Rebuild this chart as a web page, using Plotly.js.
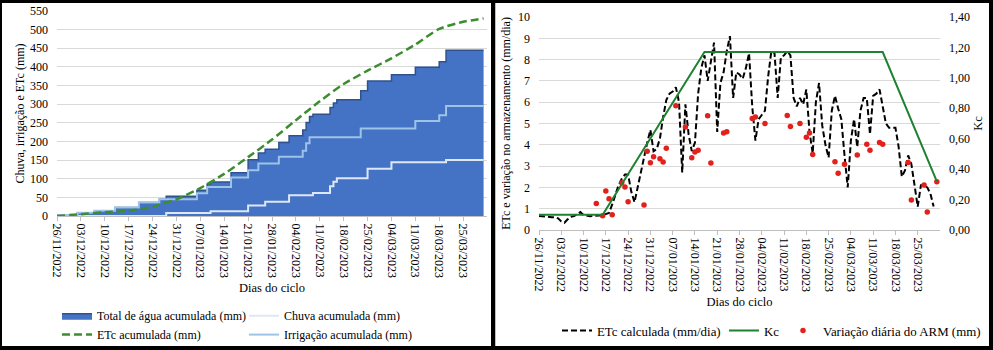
<!DOCTYPE html>
<html><head><meta charset="utf-8">
<script src="https://cdn.plot.ly/plotly-3.0.1.min.js"></script>
<style>
html,body{margin:0;padding:0;background:#000;width:993px;height:350px;overflow:hidden;}
#left{position:absolute;left:2px;top:3px;width:489px;height:343px;background:#fff;}
#right{position:absolute;left:495px;top:3px;width:494px;height:343px;background:#fff;box-shadow:inset 1px 0 0 #BFBFBF;}
</style></head><body>
<div id="left"></div><div id="right"></div>
<script>
// ---- tick labels (weekly) ----
const tickDates = ['2022-11-26','2022-12-03','2022-12-10','2022-12-17','2022-12-24','2022-12-31',
  '2023-01-07','2023-01-14','2023-01-21','2023-01-28','2023-02-04','2023-02-11','2023-02-18',
  '2023-02-25','2023-03-04','2023-03-11','2023-03-18','2023-03-25'];
const xRange = ['2022-11-26','2023-04-01'];

// ---- left chart: cumulative series (day index since 26/11/2022, cumulative mm) ----
const totalDays = [0,6,11,17,24,30,32,41,44,45,51,56,59,61,65,68,72,73,74,75,80,81,82,89,91,98,105,112,114,125];
const totalVals = [3,9,14,23,36,45,53,69,86,91,116,151,169,179,197,215,231,251,267,273,291,303,312,336,362,379,399,414,445,445];
const chuvaDays = [0,32,45,56,61,68,75,80,81,82,91,98,114,125];
const chuvaVals = [0,8,13,28,38,56,62,80,92,101,127,144,150,150];
const irrDays = [0,6,11,17,24,30,41,44,51,56,59,65,72,73,74,89,105,112,114,125];
const irrVals = [3,9,14,23,36,45,61,78,103,123,141,159,175,195,211,235,255,270,295,295];
const etcAcDays = [0,7,14,21,28,35,42,49,56,63,70,77,84,91,98,105,112,119,125];
const etcAcVals = [0,5,10,14,25,45,75,113,158,205,257,308,354,390,423,460,502,521,530];

// ---- right chart ----
// daily ETc (mm/dia), starting 26/11/2022
const etcDaily = [0.66,0.64,0.62,0.62,0.6,0.6,0.55,0.4,0.34,0.5,0.62,0.65,0.75,0.84,0.7,0.66,0.65,0.66,0.66,0.68,
  0.7,0.75,0.8,1.2,1.7,2.1,2.4,2.6,2.6,1.8,1.3,2.0,2.8,3.5,4.1,4.7,3.7,3.8,4.3,5.3,
  6.1,6.4,6.5,6.7,6.0,2.7,5.9,4.5,3.7,4.1,6.4,7.6,8.2,7.0,8.0,8.8,4.6,6.9,7.4,8.4,
  9.1,6.2,7.4,7.3,7.1,7.6,8.3,5.8,4.2,5.2,5.4,5.6,7.2,8.4,8.3,6.2,8.1,8.2,8.4,8.2,
  6.2,5.8,6.2,5.9,6.6,4.6,3.6,6.0,6.9,4.9,4.0,3.4,5.6,6.3,5.7,5.2,3.5,2.0,4.2,5.2,
  3.9,5.6,6.2,6.2,4.5,6.3,6.4,6.6,5.8,5.0,4.8,4.8,4.8,3.9,2.5,2.8,3.5,3.1,2.0,1.1,
  2.1,2.1,2.0,1.7,1.1];
const kcDays = [0,20,52,108,125];
const kcVals = [0.10,0.10,1.17,1.17,0.32];
const armDays = [18,20,21,22,23,26,27,28,33,34,35,36,38,39,40,43,46,48,49,50,53,54,58,59,
  67,68,71,78,79,82,84,85,86,93,94,96,100,103,104,107,108,116,117,121,122,125];
const armVals = [1.25,0.67,1.83,1.47,0.72,2.22,2.02,1.33,1.17,3.70,3.16,3.44,3.34,3.19,3.84,5.83,4.83,3.39,3.66,3.75,5.36,3.14,4.55,4.61,
  5.24,5.31,5.0,5.38,4.86,5.0,4.35,4.55,3.55,3.20,2.67,3.09,3.52,4.02,3.75,4.11,4.03,3.17,1.41,2.11,0.84,2.26];

function dayToDate(d){ return new Date(Date.UTC(2022,10,26) + d*86400000).toISOString().slice(0,10); }
const toDates = arr => arr.map(dayToDate);

const FONT = '"Liberation Serif", "Times New Roman", "DejaVu Serif", serif';
const TXT = {family:FONT, size:12, color:'#000'};
const xaxisBase = {
  type:'date', range:xRange, tickmode:'array', tickvals:tickDates, tickformat:'%d/%m/%Y',
  tickangle:90, tickfont:TXT, showgrid:false,
  showline:true, linecolor:'#BFBFBF', linewidth:1, ticks:'outside', ticklen:4, tickcolor:'#BFBFBF',
  zeroline:false, fixedrange:true
};
function leg(x, y, H, fs){ // one-entry legend placed in container pixels
  return {orientation:'h', xref:'container', yref:'container', x:x, y:1 - y/H, xanchor:'left', yanchor:'middle',
    font:{family:FONT, size:fs, color:'#000'}, itemwidth:30, bgcolor:'rgba(0,0,0,0)', borderwidth:0};
}

// ---------------- LEFT ----------------
const LH = 343;
const leftTraces = [
  {x:toDates(totalDays), y:totalVals, type:'scatter', mode:'lines', line:{shape:'hv', color:'#2F528F', width:1.5},
   fill:'tozeroy', fillcolor:'#4472C4', name:'Total de água acumulada (mm)', legend:'legend'},
  {x:toDates(chuvaDays), y:chuvaVals, type:'scatter', mode:'lines', line:{shape:'hv', color:'#DDE8F6', width:2},
   name:'Chuva acumulada (mm)', legend:'legend2'},
  {x:toDates(irrDays), y:irrVals, type:'scatter', mode:'lines', line:{shape:'hv', color:'#9DC3E6', width:2},
   name:'Irrigação acumulada (mm)', legend:'legend4'},
  {x:toDates(etcAcDays), y:etcAcVals, type:'scatter', mode:'lines', line:{shape:'spline', smoothing:0.6, color:'#3C8D2F', width:2.5, dash:'8px,4px'},
   name:'ETc acumulada (mm)', legend:'legend3'}
];
const leftLayout = {
  width:489, height:LH, margin:{l:55,r:4,t:8,b:130}, paper_bgcolor:'#fff', plot_bgcolor:'#fff',
  font:TXT,
  xaxis:Object.assign({}, xaxisBase, {title:{text:'Dias do ciclo', font:{family:FONT,size:12.5,color:'#000'}, standoff:6}}),
  yaxis:{range:[0,550], dtick:50, tick0:0, showgrid:true, gridcolor:'#D9D9D9', gridwidth:1, zeroline:false,
    showline:false, ticks:'', tickfont:TXT, ticklabelstandoff:8, fixedrange:true,
    title:{text:'Chuva, irrigação e ETc (mm)', font:TXT, standoff:2}},
  showlegend:true,
  legend:leg(55/489, 312.8, LH, 12),
  legend2:leg(242/489, 312.8, LH, 12),
  legend3:leg(55/489, 331.6, LH, 12),
  legend4:leg(242/489, 331.6, LH, 12)
};

// ---------------- RIGHT ----------------
const RH = 343;
const etcDates = etcDaily.map((v,i)=>dayToDate(i));
const rightTraces = [
  {x:etcDates, y:etcDaily, type:'scatter', mode:'lines', line:{color:'#000', width:2, dash:'6px,3px'},
   name:'ETc calculada (mm/dia)', legend:'legend'},
  {x:toDates(kcDays), y:kcVals, type:'scatter', mode:'lines', yaxis:'y2', line:{color:'#1E8230', width:2},
   name:'Kc', legend:'legend2'},
  {x:toDates(armDays), y:armVals, type:'scatter', mode:'markers', marker:{color:'#E3211C', size:5.5},
   name:'Variação diária do ARM (mm)', legend:'legend3'}
];
const rightLayout = {
  width:494, height:RH, margin:{l:44,r:49,t:14,b:116}, paper_bgcolor:'rgba(0,0,0,0)', plot_bgcolor:'#fff',
  separators:',.',
  font:TXT,
  xaxis:Object.assign({}, xaxisBase, {title:{text:'Dias do ciclo', font:{family:FONT,size:12.5,color:'#000'}, standoff:6}}),
  yaxis:{range:[0,10], dtick:1, tick0:0, showgrid:true, gridcolor:'#D9D9D9', gridwidth:1, zeroline:false,
    showline:false, ticks:'', tickfont:TXT, ticklabelstandoff:8, fixedrange:true,
    title:{text:'ETc e variação no armazenamento (mm/dia)', font:TXT, standoff:4}},
  yaxis2:{range:[0,1.4], dtick:0.2, tick0:0, overlaying:'y', side:'right', showgrid:false, zeroline:false,
    showline:false, ticks:'', tickformat:'.2f', tickfont:TXT, ticklabelstandoff:8,
    fixedrange:true, title:{text:'Kc', font:{family:FONT,size:12.5,color:'#000'}, standoff:4}},
  showlegend:true,
  legend:leg(62/494, 327.7, RH, 12.9),
  legend2:leg(229/494, 327.7, RH, 12.9),
  legend3:leg(288/494, 327.7, RH, 12.9)
};

const cfg = {staticPlot:true, displayModeBar:false};
Plotly.newPlot('left', leftTraces, leftLayout, cfg);
Plotly.newPlot('right', rightTraces, rightLayout, cfg);
</script>
</body></html>
